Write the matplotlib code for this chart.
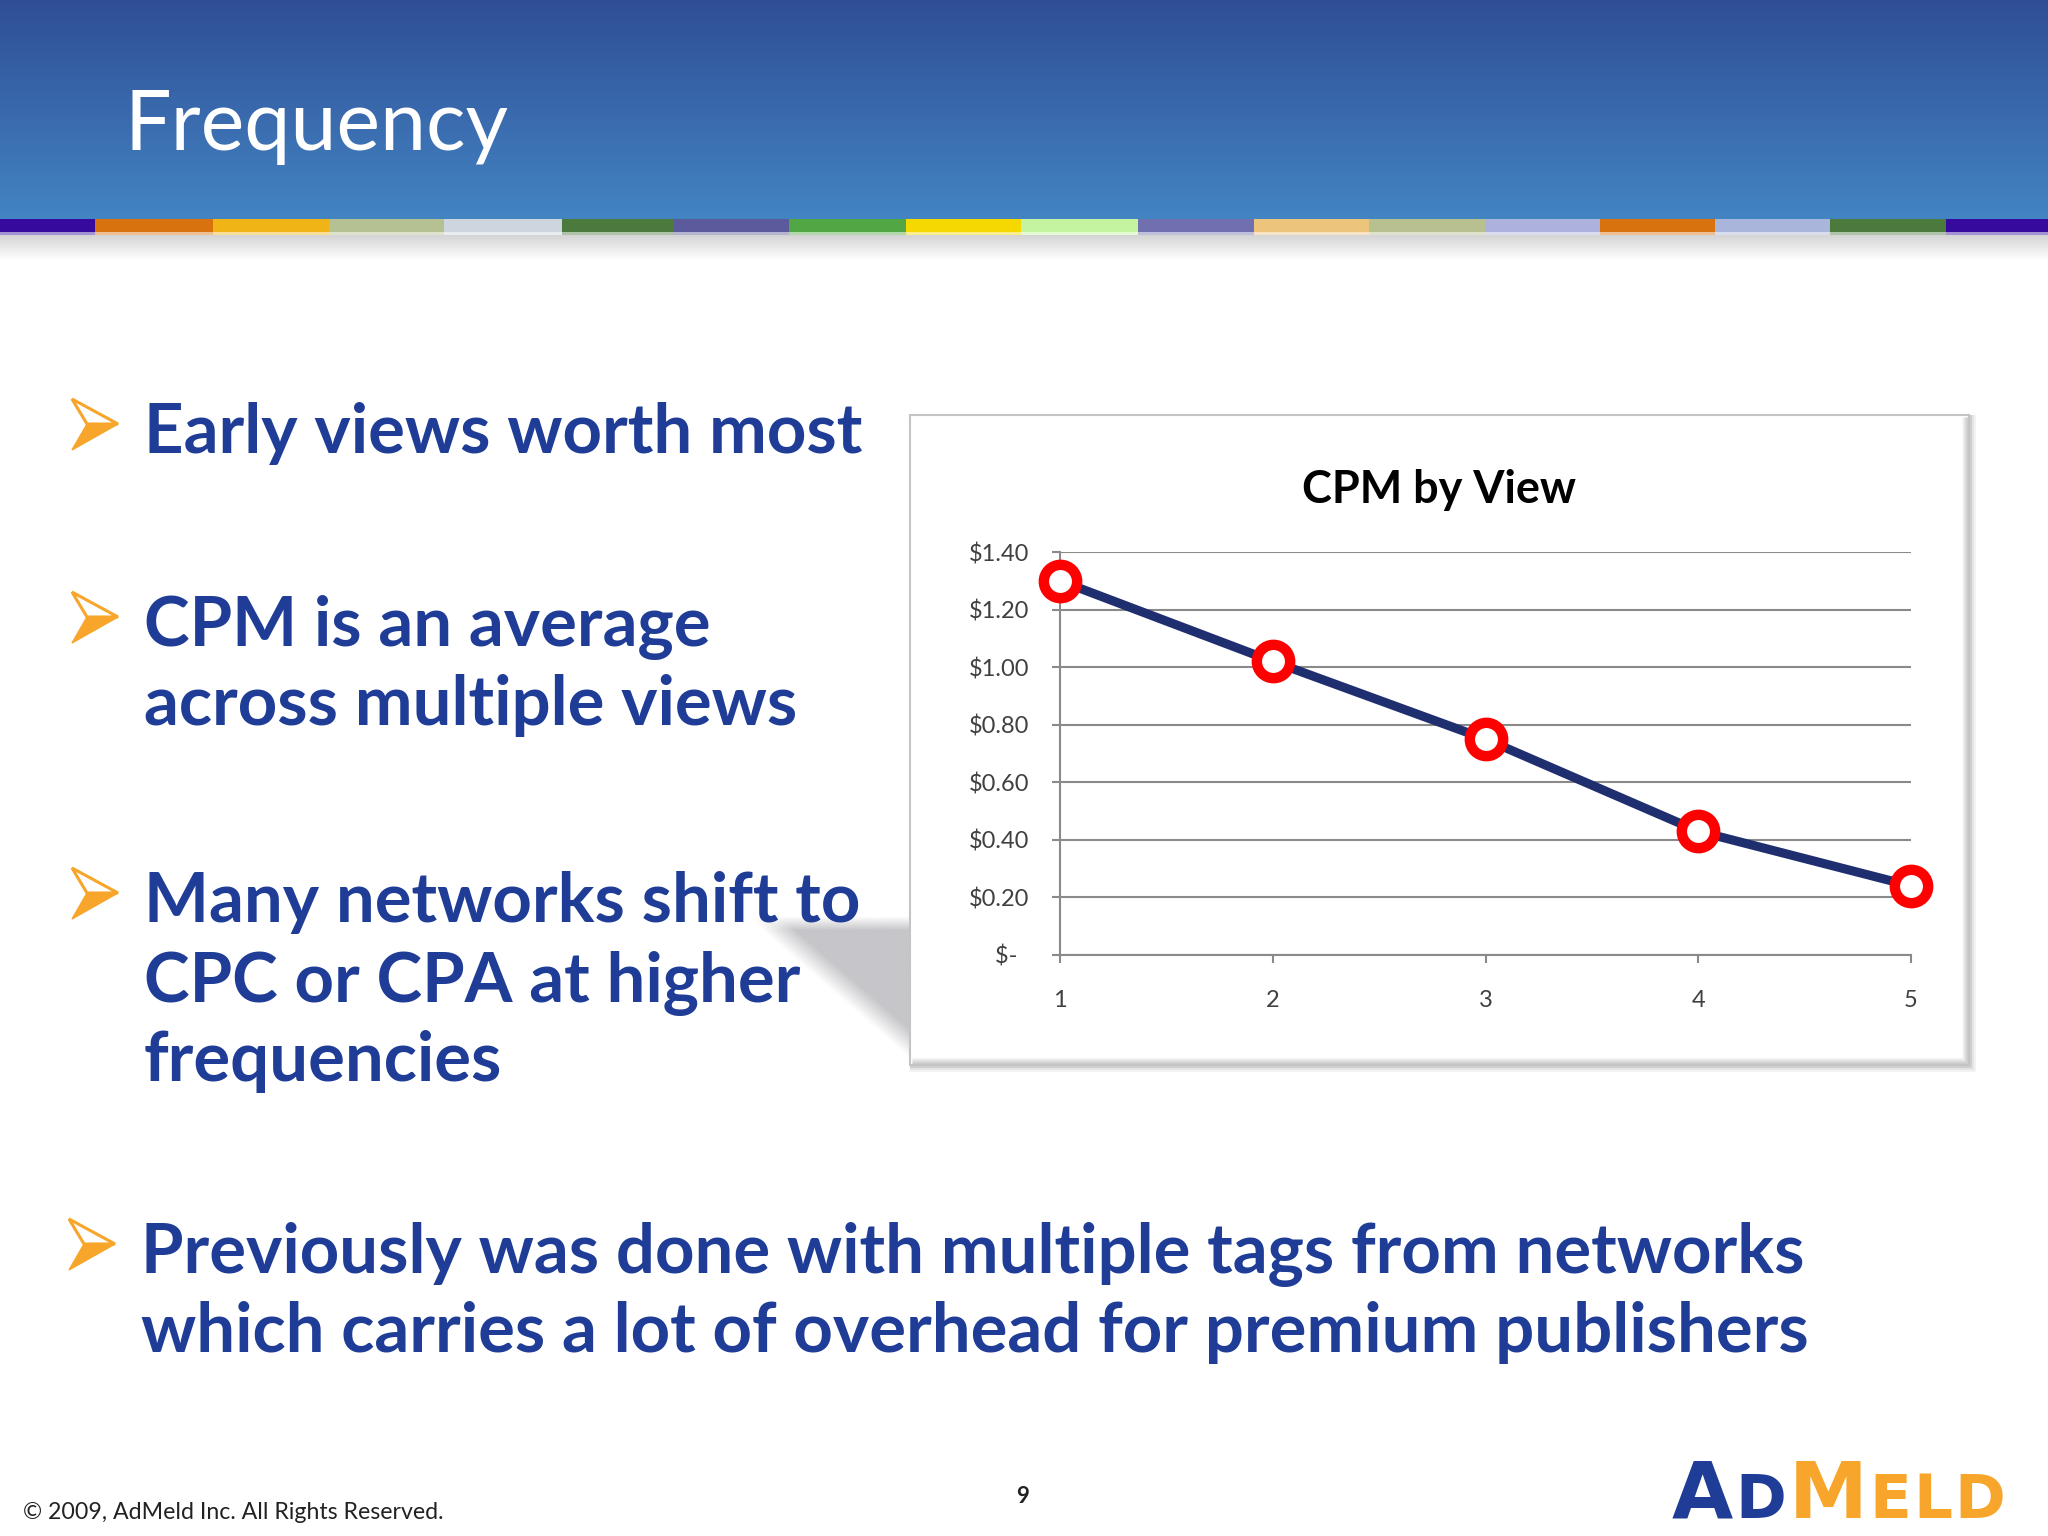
import matplotlib
matplotlib.use('Agg')
import matplotlib.pyplot as plt
import numpy as np
from matplotlib.patches import Polygon, Rectangle
from matplotlib.colors import to_rgb

# ---------------- data ----------------
views = [1, 2, 3, 4, 5]
cpm = [1.30, 1.02, 0.75, 0.43, 0.24]
y_ticks = [0, 0.2, 0.4, 0.6, 0.8, 1.0, 1.2, 1.4]
y_tick_labels = ['$-  ', '$0.20', '$0.40', '$0.60', '$0.80', '$1.00', '$1.20', '$1.40']
x_tick_labels = ['1', '2', '3', '4', '5']
chart_title = 'CPM by View'
slide_title = 'Frequency'
bullets = [
    ['Early views worth most'],
    ['CPM is an average', 'across multiple views'],
    ['Many networks shift to', 'CPC or CPA at higher', 'frequencies'],
    ['Previously was done with multiple tags from networks',
     'which carries a lot of overhead for premium publishers'],
]
footer = '\u00a9 2009, AdMeld Inc. All Rights Reserved.'
page_number = '9'
logo_letters = ['A', 'D', 'M', 'E', 'L', 'D']

# decoration strip
strip_edges = [0, 95, 213, 329, 444, 562, 674, 789, 906, 1021, 1138, 1254, 1369,
               1485, 1600, 1715, 1830, 1946, 2048]
strip_colors = ['#350a9c', '#d7720e', '#f0b416', '#b5c093', '#cdd6de', '#4b7a3c',
                '#5b5a9c', '#52a643', '#f4d800', '#c4f4a0', '#7070b0', '#ecc47c',
                '#b8c090', '#adb2dc', '#d7720e', '#aab5dc', '#4b7a3c', '#350a9c']

BLUE = '#1f3d96'
ORANGE = '#f7a52b'
W, H = 2048, 1536

fig = plt.figure(figsize=(20.48, 15.36), dpi=100)
fig.patch.set_facecolor('white')
bg = fig.add_axes([0, 0, 1, 1])
bg.set_xlim(0, W)
bg.set_ylim(H, 0)
bg.axis('off')

# header gradient
top = np.array(to_rgb('#2f4e95'))
bot = np.array(to_rgb('#4384c3'))
t = np.linspace(0, 1, 256)[:, None]
grad = (top[None, :] * (1 - t) + bot[None, :] * t)[:, None, :]
bg.imshow(grad, extent=[0, W, 219, 0], aspect='auto', origin='upper', zorder=0)

# colour strip
for i, c in enumerate(strip_colors):
    x0, x1 = strip_edges[i], strip_edges[i + 1]
    bg.add_patch(Rectangle((x0, 219), x1 - x0, 13, fc=c, ec='none', zorder=1))
    lc = 0.45 * np.array(to_rgb(c)) + 0.55
    bg.add_patch(Rectangle((x0, 232), x1 - x0, 3, fc=lc, ec='none', zorder=1))

# soft shadow under the strip
sh = np.linspace(0, 1, 64)[:, None]
g0 = np.array(to_rgb('#d4d4d4'))
shgrad = (g0[None, :] * (1 - sh) + np.ones(3)[None, :] * sh)[:, None, :]
bg.imshow(shgrad, extent=[0, W, 260, 235], aspect='auto', origin='upper', zorder=0.5)

fig.canvas.draw()
rend = fig.canvas.get_renderer()


def fit(txt, target):
    w = txt.get_window_extent(rend).width
    txt.set_fontsize(txt.get_fontsize() * target / w)


# slide title
tt = bg.text(125, 150, slide_title, color='white', fontsize=50, family='Lato',
             ha='left', va='baseline', zorder=3)
fit(tt, 384)

# bullets
probe1 = bg.text(0, 0, bullets[0][0], fontsize=40, family='Lato', weight='bold')
probe2 = bg.text(0, 0, bullets[3][1], fontsize=40, family='Lato', weight='bold')
w1 = probe1.get_window_extent(rend).width
w2 = probe2.get_window_extent(rend).width
bsize = 0.5 * (40 * 714 / w1 + 40 * 1678 / w2)
probe1.remove()
probe2.remove()

baselines = [[453], [646, 725], [922, 1002, 1081], [1273, 1352]]
text_x = [144, 144, 144, 141]
arrow_x = [72, 72, 72, 69]
for lines, bls, tx, ax_ in zip(bullets, baselines, text_x, arrow_x):
    for s, b in zip(lines, bls):
        bg.text(tx, b, s, color=BLUE, fontsize=bsize, family='Lato', weight='bold',
                ha='left', va='baseline', zorder=5)
    yc = bls[0] - 29
    topp = (ax_, yc - 25)
    tip = (ax_ + 46, yc)
    bott = (ax_, yc + 26)
    notch = (ax_ + 15, yc)
    bg.add_patch(Polygon([topp, tip, notch], closed=True, fc='white', ec=ORANGE,
                         lw=2.2, zorder=5, joinstyle='miter'))
    bg.add_patch(Polygon([notch, tip, bott], closed=True, fc=ORANGE, ec=ORANGE,
                         lw=1, zorder=5))

# perspective shadow left of the chart box (gradient, clipped to a triangle)
tri = Polygon([(752, 921), (910, 921), (910, 1058)], closed=True, fc='none',
              ec='none', transform=bg.transData)
bg.add_patch(tri)
xx, yy = np.meshgrid(np.linspace(745, 910, 200), np.linspace(912, 1065, 200))
# distance from the diagonal edge and from the top edge -> soft edges
d_diag = ((xx - 752) * (1058 - 921) - (yy - 921) * (910 - 752)) / np.hypot(137, 158)
soft = np.clip(d_diag / 22.0, 0, 1) * np.clip((yy - 916) / 14.0, 0, 1)
rgba = np.zeros(xx.shape + (4,))
rgba[..., :3] = to_rgb('#c6c6ca')
rgba[..., 3] = soft
im = bg.imshow(rgba, extent=[745, 910, 1065, 912], origin='upper', aspect='auto',
               zorder=1.6, interpolation='bilinear')
shadow_clip = Polygon([(735, 908), (910, 908), (910, 1070)], closed=True,
                      transform=bg.transData)
im.set_clip_path(shadow_clip)

# chart box with shadow
for k, a in [(7, 0.12), (5, 0.18), (3, 0.3)]:
    bg.add_patch(Rectangle((910, 415), 1059 + k, 650 + k, fc='#a0a0a0', ec='none',
                           alpha=a, zorder=1.8))
bg.add_patch(Rectangle((910, 415), 1059, 650, fc='white', ec='#c4c4c4', lw=1.5,
                       zorder=2))
# bevel
for k in range(6):
    c = 0.97 - 0.035 * k
    bg.plot([912, 1967], [1058 + k, 1058 + k], color=(c, c, c), lw=1, zorder=2.1,
            solid_capstyle='butt')
    bg.plot([1962 + k, 1962 + k], [417, 1063], color=(c + 0.01, c + 0.01, c + 0.01),
            lw=1, zorder=2.1, solid_capstyle='butt')

# chart title
ct = bg.text(1439, 503, chart_title, color='black', fontsize=30, family='Lato',
             weight='bold', ha='center', va='baseline', zorder=5)
fit(ct, 274)

# ---------------- the chart ----------------
ax = fig.add_axes([1060 / W, (H - 955) / H, (1911 - 1060) / W, (955 - 552) / H])
ax.set_facecolor('none')
ax.set_zorder(5)
ax.set_xlim(1, 5)
ax.set_ylim(0, 1.4)
GRID = '#8a8a8a'
ax.set_yticks(y_ticks)
ax.set_yticklabels(y_tick_labels)
ax.set_xticks(views)
ax.set_xticklabels(x_tick_labels)
ax.yaxis.grid(True, color=GRID, lw=1.5)
ax.set_axisbelow(True)
for s in ['top', 'right']:
    ax.spines[s].set_visible(False)
for s in ['left', 'bottom']:
    ax.spines[s].set_color(GRID)
    ax.spines[s].set_linewidth(1.5)
ax.tick_params(axis='y', direction='out', length=6, width=1.5, color=GRID, pad=16,
               labelsize=17, labelcolor='#404040')
ax.tick_params(axis='x', direction='out', length=6, width=1.5, color=GRID, pad=19,
               labelsize=17, labelcolor='#404040')
for lab in ax.get_xticklabels() + ax.get_yticklabels():
    lab.set_family('Lato')

ax.plot(views, cpm, color='#1f2e6e', lw=6.5, marker='o', ms=24, mew=7.5,
        mec='#ff0000', mfc='white', clip_on=False, zorder=6)

# ---------------- footer ----------------
ft = bg.text(23, 1519, footer, color='#222222', fontsize=16, family='Lato',
             ha='left', va='baseline', zorder=5)
fit(ft, 422)
bg.text(1023, 1503, page_number, color='#222222', fontsize=16, family='Lato',
        weight='bold', ha='center', va='baseline', zorder=5)

# logo: tall capitals A, M and smaller capitals, spread over 1672..2005
logo_sizes = [57, 44, 57, 44, 44, 44]
logo_cols = [BLUE, BLUE, ORANGE, ORANGE, ORANGE, ORANGE]
objs = []
for ch, sz, col in zip(logo_letters, logo_sizes, logo_cols):
    objs.append(bg.text(0, 1518, ch, color=col, fontsize=sz, family='DejaVu Sans',
                        weight='bold', ha='left', va='baseline', zorder=5))
fig.canvas.draw()
ws = [o.get_window_extent(rend).width for o in objs]
gap = (2005 - 1672 - sum(ws)) / (len(ws) - 1)
x = 1672
for o, w in zip(objs, ws):
    o.set_x(x)
    x += w + gap

fig.savefig('out.png', dpi=100, facecolor='white')
